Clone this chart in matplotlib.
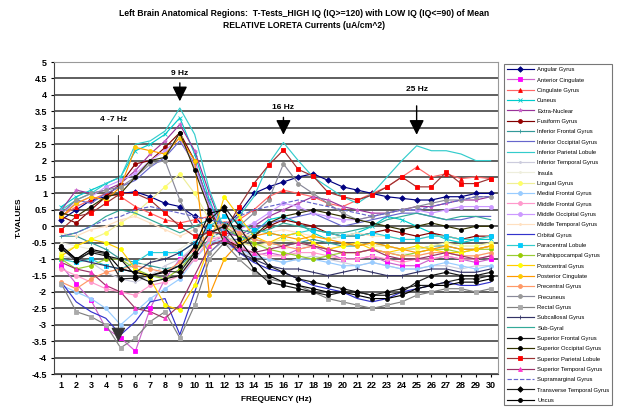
import matplotlib
matplotlib.use("Agg")
import matplotlib.pyplot as plt
import numpy as np

plt.rcParams['font.family'] = ['Liberation Sans', 'DejaVu Sans']

freqs = list(range(1, 31))

regions = [
    "Angular Gyrus", "Anterior Cingulate", "Cingulate Gyrus", "Cuneus",
    "Extra-Nuclear", "Fusiform Gyrus", "Inferior Frontal Gyrus",
    "Inferior Occipital Gyrus", "Inferior Parietal Lobule",
    "Inferior Temporal Gyrus", "Insula", "Lingual Gyrus",
    "Medial Frontal Gyrus", "Middle Frontal Gyrus", "Middle Occipital Gyrus",
    "Middle Temporal Gyrus", "Orbital Gyrus", "Paracentral Lobule",
    "Parahippocampal Gyrus", "Postcentral Gyrus", "Posterior Cingulate",
    "Precentral Gyrus", "Precuneus", "Rectal Gyrus", "Subcallosal Gyrus",
    "Sub-Gyral", "Superior Frontal Gyrus", "Superior Occipital Gyrus",
    "Superior Parietal Lobule", "Superior Temporal Gyrus",
    "Supramarginal Gyrus", "Transverse Temporal Gyrus", "Uncus",
]

angular_gyrus = [0.2, 0.5, 0.8, 0.9, 1.0, 1.05, 0.9, 0.7, 0.6, 0.3, -0.2, 0.0, 0.4, 1.0, 1.2, 1.35, 1.5, 1.6, 1.4, 1.2, 1.1, 1.0, 0.9, 0.85, 0.8, 0.8, 0.9, 0.9, 1.0, 1.0]
anterior_cingulate = [-1.2, -1.75, -2.25, -3.1, -3.4, -3.8, -2.5, -1.6, -1.0, -0.7, -0.5, -0.3, -0.6, -0.9, -0.8, -0.9, -0.7, -0.6, -0.8, -1.0, -1.0, -0.9, -1.1, -1.2, -1.2, -1.0, -0.9, -1.0, -1.1, -1.0]
cingulate_gyrus = [0.3, 0.6, 0.8, 1.0, 0.9, 0.6, 0.4, 0.2, 0.1, 0.2, 0.3, 0.1, 0.2, 0.5, 0.9, 1.1, 1.0, 0.9, 0.7, 0.6, 0.8, 1.0, 1.2, 1.5, 1.8, 1.5, 1.6, 1.45, 1.5, 1.45]
cuneus = [0.6, 0.9, 1.1, 1.3, 1.5, 2.3, 2.5, 2.8, 3.3, 2.2, 0.8, -0.3, -0.5, -0.2, 0.2, 0.3, 0.1, -0.2, -0.4, -0.3, -0.2, 0.0, 0.3, 0.2, 0.0, -0.2, -0.4, -0.5, -0.4, -0.4]
extra_nuclear = [0.5, 1.1, 1.0, 1.1, 1.3, 1.7, 2.2, 2.6, 3.1, 2.3, 1.0, -0.2, -0.3, 0.0, 0.3, 0.5, 0.7, 0.9, 0.8, 0.6, 0.5, 0.4, 0.4, 0.5, 0.6, 0.6, 0.7, 0.8, 0.8, 0.9]
fusiform_gyrus = [0.3, 0.1, 0.5, 0.9, 1.3, 1.9, 2.0, 2.4, 2.85, 2.0, 0.6, -0.4, -0.6, -0.3, 0.0, 0.2, 0.1, 0.0, -0.2, -0.3, -0.3, -0.2, -0.1, -0.2, -0.3, -0.2, -0.3, -0.4, -0.3, -0.3]
inferior_frontal = [-0.3, -0.3, -0.5, -0.7, -1.0, -1.1, -1.2, -1.3, -1.2, -0.8, -0.4, -0.1, -0.3, -0.4, -0.5, -0.6, -0.5, -0.4, -0.5, -0.6, -0.6, -0.5, -0.6, -0.7, -0.7, -0.6, -0.6, -0.7, -0.7, -0.6]
inferior_occipital = [0.4, 0.8, 0.7, 1.0, 1.2, 1.4, 1.8, 2.1, 2.6, 1.9, 0.7, -0.4, -0.4, -0.1, 0.1, 0.2, 0.3, 0.4, 0.2, 0.0, 0.1, 0.2, 0.3, 0.4, 0.4, 0.3, 0.2, 0.2, 0.3, 0.3]
inferior_parietal = [0.5, 0.8, 1.0, 1.3, 1.5, 2.5, 2.6, 2.9, 3.6, 2.8, 1.1, -0.1, 0.3, 0.9, 1.9, 2.55, 2.0, 1.5, 1.2, 0.9, 0.7, 1.0, 1.5, 2.0, 2.45, 2.3, 2.3, 2.2, 2.0, 2.0]
inferior_temporal = [-0.9, -1.0, -1.1, -1.4, -1.6, -1.7, -1.5, -1.2, -1.0, -0.6, -0.3, -0.5, -0.8, -0.9, -1.0, -1.1, -1.0, -0.9, -1.0, -1.1, -1.2, -1.1, -1.2, -1.3, -1.3, -1.2, -1.2, -1.3, -1.2, -1.2]
insula = [-0.5, -0.6, -0.7, -0.9, -1.0, -1.2, -1.1, -0.9, -0.7, -0.4, -0.2, -0.4, -0.5, -0.6, -0.6, -0.7, -0.6, -0.6, -0.7, -0.8, -0.8, -0.7, -0.8, -0.8, -0.9, -0.8, -0.8, -0.9, -0.9, -0.8]
lingual_gyrus = [-0.8, -0.6, -0.4, -0.2, 0.1, 0.4, 0.8, 1.2, 1.6, 1.0, 0.2, -0.3, -0.5, -0.6, -0.5, -0.4, -0.5, -0.6, -0.7, -0.6, -0.5, -0.6, -0.6, -0.7, -0.7, -0.6, -0.5, -0.6, -0.6, -0.5]
medial_frontal = [-1.8, -2.0, -2.2, -2.5, -3.0, -2.6, -2.2, -1.9, -1.6, -1.0, -0.5, -0.4, -0.7, -0.9, -1.0, -1.1, -1.0, -1.0, -1.1, -1.2, -1.2, -1.1, -1.2, -1.3, -1.3, -1.2, -1.1, -1.2, -1.3, -1.2]
middle_frontal = [-1.3, -1.5, -1.7, -1.9, -2.0, -2.1, -1.8, -1.7, -1.5, -1.0, -0.4, -0.3, -0.6, -0.8, -0.9, -0.9, -0.8, -0.8, -0.9, -1.0, -1.0, -0.9, -1.0, -1.1, -1.0, -1.0, -0.9, -1.0, -1.0, -0.9]
middle_occipital = [0.4, 0.7, 0.9, 1.2, 1.4, 1.6, 2.0, 2.3, 2.7, 1.8, 0.6, -0.2, -0.1, 0.1, 0.4, 0.7, 0.6, 0.4, 0.3, 0.2, 0.2, 0.3, 0.4, 0.5, 0.5, 0.4, 0.5, 0.6, 0.6, 0.6]
middle_temporal = [-0.2, -0.3, -0.1, 0.0, 0.2, 0.3, 0.1, -0.1, -0.3, -0.1, 0.1, 0.0, -0.2, -0.3, -0.2, -0.1, -0.2, -0.3, -0.4, -0.3, -0.2, -0.3, -0.3, -0.4, -0.4, -0.3, -0.3, -0.4, -0.4, -0.3]
orbital_gyrus = [-1.7, -2.3, -2.6, -2.8, -3.3, -2.9, -2.3, -2.2, -3.3, -2.0, -0.8, -0.4, -0.8, -1.1, -1.3, -1.4, -1.6, -1.8, -1.9, -2.0, -2.2, -2.3, -2.2, -2.0, -1.9, -1.8, -1.7, -1.8, -1.8, -1.7]
paracentral_lobule = [-1.0, -1.1, -1.0, -1.2, -1.3, -1.1, -0.8, -0.8, -0.8, -0.5, 0.0, 0.3, 0.1, -0.1, -0.2, -0.3, -0.2, -0.1, -0.2, -0.3, -0.3, -0.2, -0.3, -0.4, -0.4, -0.3, -0.3, -0.4, -0.4, -0.3]
parahippocampal = [-1.0, -1.3, -1.2, -1.0, -1.0, -1.3, -1.5, -1.6, -1.3, -0.8, -0.2, 0.0, -0.3, -0.5, -0.7, -0.8, -0.9, -1.0, -0.9, -0.8, -0.8, -0.7, -0.8, -0.9, -0.8, -0.7, -0.7, -0.8, -0.7, -0.7]
postcentral_gyrus = [-0.9, -0.6, -0.4, -0.5, -0.7, -1.3, -1.6, -2.4, -2.55, -1.8, -0.6, 0.9, 0.3, -0.3, -0.5, -0.3, -0.2, -0.5, -0.7, -0.6, -0.5, -0.7, -0.8, -0.7, -0.6, -0.7, -0.8, -0.8, -0.7, -0.6]
posterior_cingulate = [0.3, 0.7, 0.9, 0.8, 1.2, 2.4, 2.3, 2.2, 2.7, 2.0, -2.1, -1.0, -0.5, -0.3, -0.2, -0.3, -0.4, -0.3, -0.4, -0.5, -0.6, -0.5, -0.6, -0.7, -0.8, -0.7, -0.6, -0.7, -0.7, -0.6]
precentral_gyrus = [-1.7, -1.9, -1.6, -1.4, -1.3, -1.2, -1.3, -1.4, -1.1, -0.7, -0.2, 0.1, -0.2, -0.4, -0.5, -0.6, -0.7, -0.6, -0.7, -0.8, -0.8, -0.7, -0.8, -0.9, -0.9, -0.8, -0.8, -0.9, -0.9, -0.8]
precuneus = [0.4, 0.8, 1.0, 1.1, 1.2, 1.5, 1.9, 2.0, 0.8, -0.1, -0.8, -0.4, 0.0, 0.4, 0.8, 1.9, 1.3, 1.0, 0.7, 0.4, 0.2, 0.3, 0.4, 0.5, 0.6, 0.7, 0.8, 0.8, 0.9, 0.9]
rectal_gyrus = [-1.75, -2.6, -2.75, -3.0, -3.7, -3.4, -2.9, -2.6, -3.4, -2.4, -1.0, -0.5, -1.0, -1.4, -1.6, -1.7, -1.8, -2.0, -2.2, -2.3, -2.4, -2.5, -2.4, -2.3, -2.1, -2.0, -1.9, -1.9, -2.0, -1.9]
subcallosal_gyrus = [-0.6, -1.0, -1.1, -1.2, -1.3, -1.4, -1.1, -1.0, -0.8, -0.5, -0.1, -0.3, -0.8, -1.0, -1.2, -1.3, -1.3, -1.4, -1.5, -1.4, -1.3, -1.4, -1.5, -1.5, -1.4, -1.3, -1.3, -1.4, -1.4, -1.3]
sub_gyral = [-0.3, -0.2, 0.0, 0.3, 0.5, 0.4, 0.2, 0.0, -0.2, 0.0, 0.2, 0.1, -0.1, -0.2, -0.1, 0.1, 0.0, -0.1, -0.2, -0.2, -0.1, 0.0, 0.2, 0.3, 0.4, 0.3, 0.2, 0.3, 0.3, 0.2]
superior_frontal = [-0.7, -1.0, -0.8, -0.9, -1.0, -1.5, -1.7, -1.6, -1.5, -0.9, -0.2, 0.0, -0.6, -1.3, -1.7, -1.8, -1.9, -2.0, -2.1, -2.0, -2.0, -2.1, -2.1, -2.0, -1.7, -1.5, -1.4, -1.5, -1.5, -1.4]
superior_occipital = [0.4, 0.3, 0.6, 0.9, 1.0, 1.5, 2.0, 2.1, 2.85, 1.7, 0.5, -0.5, -0.6, -0.3, 0.1, 0.3, 0.4, 0.5, 0.4, 0.3, 0.2, 0.1, 0.0, -0.1, 0.0, 0.1, 0.0, -0.1, 0.0, 0.0]
superior_parietal = [-0.1, 0.3, 0.4, 0.7, 1.0, 1.0, 0.8, 0.4, 0.0, -0.3, -0.2, -0.2, 0.6, 1.3, 1.86, 2.32, 1.73, 1.53, 1.04, 0.9, 0.8, 0.95, 1.2, 1.5, 1.2, 1.2, 1.65, 1.3, 1.3, 1.45]
superior_temporal = [-1.1, -1.3, -1.4, -1.8, -2.0, -2.5, -2.6, -2.8, -2.4, -1.5, -0.6, -0.4, -0.7, -0.8, -0.7, -0.6, -0.5, -0.6, -0.7, -0.8, -0.8, -0.7, -0.9, -1.0, -1.0, -0.9, -0.8, -0.9, -1.0, -0.9]
supramarginal_gyrus = [-0.3, -0.2, 0.0, 0.2, 0.3, 0.5, 0.6, 0.5, 0.4, 0.3, 0.2, 0.1, 0.3, 0.5, 0.6, 0.7, 0.8, 0.7, 0.6, 0.5, 0.4, 0.3, 0.4, 0.5, 0.5, 0.6, 0.7, 0.8, 0.9, 0.9]
transverse_temporal = [-0.66, -1.07, -0.76, -0.83, -1.6, -1.58, -1.5, -1.36, -1.4, -0.8, 0.2, 0.6, 0.0, -0.7, -1.2, -1.4, -1.6, -1.7, -1.8, -1.9, -2.0, -2.1, -2.0, -1.9, -1.8, -1.8, -1.7, -1.6, -1.6, -1.5]
uncus = [-0.6, -1.0, -0.7, -0.8, -1.3, -1.4, -1.5, -1.4, -1.2, -0.6, 0.4, 0.5, -0.4, -1.0, -1.5, -1.7, -1.8, -1.9, -2.0, -2.0, -2.1, -2.2, -2.2, -2.1, -1.9, -1.8, -1.8, -1.7, -1.7, -1.6]

series = [
    angular_gyrus, anterior_cingulate, cingulate_gyrus, cuneus, extra_nuclear,
    fusiform_gyrus, inferior_frontal, inferior_occipital, inferior_parietal,
    inferior_temporal, insula, lingual_gyrus, medial_frontal, middle_frontal,
    middle_occipital, middle_temporal, orbital_gyrus, paracentral_lobule,
    parahippocampal, postcentral_gyrus, posterior_cingulate, precentral_gyrus,
    precuneus, rectal_gyrus, subcallosal_gyrus, sub_gyral, superior_frontal,
    superior_occipital, superior_parietal, superior_temporal,
    supramarginal_gyrus, transverse_temporal, uncus,
]

# (line colour, marker, marker colour, line style)
styles = [
    ("#000080", "D", "#000080", "-"),
    ("#CC66CC", "s", "#FF00FF", "-"),
    ("#FF6666", "^", "#FF0000", "-"),
    ("#00CCCC", "x", "#00CCCC", "-"),
    ("#993399", "*", "#CC66CC", "-"),
    ("#800000", "o", "#990000", "-"),
    ("#339999", "+", "#339999", "-"),
    ("#6666CC", "", "#6666CC", "-"),
    ("#33CCCC", "", "#33CCCC", "-"),
    ("#CCCCDD", ".", "#CCCCDD", "-"),
    ("#EEEEDD", ".", "#EEEEDD", "-"),
    ("#EEEE99", "o", "#FFFF66", "-"),
    ("#99CCFF", "o", "#99CCFF", "-"),
    ("#FF99CC", "o", "#FF99CC", "-"),
    ("#CC99FF", "o", "#CC99FF", "-"),
    ("#FFE0C0", ".", "#FFE0C0", "-"),
    ("#3333CC", "", "#3333CC", "-"),
    ("#33CCCC", "s", "#00CCFF", "-"),
    ("#99CC33", "o", "#99CC00", "-"),
    ("#FFCC00", "o", "#FFFF00", "-"),
    ("#FF9900", "o", "#FFCC00", "-"),
    ("#FF9966", "o", "#FF9966", "-"),
    ("#888899", "o", "#999999", "-"),
    ("#808080", "s", "#AAAAAA", "-"),
    ("#333366", "|", "#333366", "-"),
    ("#33AA99", "", "#33AA99", "-"),
    ("#1A1A1A", "o", "#000000", "-"),
    ("#333300", "o", "#000000", "-"),
    ("#993333", "s", "#FF0000", "-"),
    ("#993366", "^", "#FF33CC", "-"),
    ("#6666CC", "", "#6666CC", "--"),
    ("#222222", "D", "#000000", "-"),
    ("#000000", "o", "#000000", "-"),
]

fig = plt.figure(figsize=(6.21, 4.08), dpi=100)
ax = fig.add_axes([0.087, 0.083, 0.715, 0.765])

ax.set_ylim(-4.5, 5)
ax.set_xlim(0.5, 30.5)
yt = np.arange(-4.5, 5.01, 0.5)
for y in yt:
    ax.axhline(y, color="#333333", lw=1.1, zorder=0)

for name, vals, (lc, mk, mc, ls) in zip(regions, series, styles):
    ax.plot(freqs, vals, color=lc, lw=0.85, ls=ls, marker=mk if mk else None,
            markersize=2.8, markerfacecolor=mc, markeredgecolor=mc,
            markeredgewidth=0.6, label=name, zorder=2)

ax.set_yticks(yt)
ax.set_yticklabels([f"{v:g}" for v in yt], fontsize=6.5, fontweight="bold")
ax.set_xticks(freqs)
ax.set_xticklabels([str(f) for f in freqs], fontsize=6.5, fontweight="bold")
ax.tick_params(axis="both", length=2, width=0.8, pad=3)
for s in ax.spines.values():
    s.set_color("#999999")
    s.set_linewidth(0.8)
ax.spines["left"].set_color("#444444")
ax.spines["bottom"].set_color("#444444")

ax.set_ylabel("T-VALUES", fontsize=6, fontweight="bold", labelpad=6)
ax.set_xlabel("FREQUENCY (Hz)", fontsize=6, fontweight="bold", labelpad=4)

fig.text(0.49, 0.968, "Left Brain Anatomical Regions:  T-Tests_HIGH IQ (IQ>=120) with LOW IQ (IQ<=90) of Mean",
         ha="center", va="center", fontsize=6.2, fontweight="bold")
fig.text(0.49, 0.938, "RELATIVE LORETA Currents (uA/cm^2)",
         ha="center", va="center", fontsize=6.2, fontweight="bold")

arrow_kw = dict(arrowstyle="-|>,head_width=0.45,head_length=0.9", color="black", lw=1.0)
ax.annotate("", xy=(9, 3.72), xytext=(9, 4.45), arrowprops=arrow_kw, zorder=5)
ax.text(9, 4.65, "9 Hz", ha="center", va="center", fontsize=6, fontweight="bold")
ax.annotate("", xy=(16, 2.7), xytext=(16, 3.4), arrowprops=arrow_kw, zorder=5)
ax.text(16, 3.62, "16 Hz", ha="center", va="center", fontsize=6, fontweight="bold")
ax.annotate("", xy=(25, 2.7), xytext=(25, 3.75), arrowprops=arrow_kw, zorder=5)
ax.text(25, 4.15, "25 Hz", ha="center", va="center", fontsize=6, fontweight="bold")
ax.annotate("", xy=(4.85, -3.6), xytext=(4.85, 2.85),
            arrowprops=dict(arrowstyle="-|>,head_width=0.45,head_length=0.9",
                            color="#333333", lw=0.7), zorder=5)
ax.text(4.5, 3.25, "4 -7 Hz", ha="center", va="center", fontsize=6, fontweight="bold")

leg = fig.legend(loc="upper left", bbox_to_anchor=(0.812, 0.842), ncol=1,
                 fontsize=4.2, frameon=True, fancybox=False, borderpad=0.45,
                 labelspacing=0.9, handlelength=4.6, handletextpad=0.6,
                 borderaxespad=0)
leg.get_frame().set_edgecolor("#555555")
leg.get_frame().set_linewidth(0.8)

fig.savefig("out.png", dpi=100)
